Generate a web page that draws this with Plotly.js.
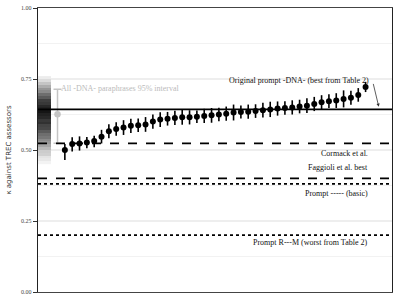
<!DOCTYPE html>
<html><head><meta charset="utf-8">
<script src="https://cdn.plot.ly/plotly-3.0.1.min.js"></script>
<style>html,body{margin:0;padding:0;background:#fff}#chart{width:400px;height:300px}</style>
</head><body><div id="chart"></div>
<script>
// Paraphrase prompts (sorted), kappa and error
const promptIdx = [1,2,3,4,5,6,7,8,9,10,11,12,13,14,15,16,17,18,19,20,21,22,23,24,25,26,27,28,29,30,31,32,33,34,35,36,37,38,39,40,41,42];
const kappa = [0.500,0.521,0.523,0.526,0.532,0.547,0.566,0.574,0.579,0.585,0.587,0.590,0.600,0.607,0.610,0.613,0.615,0.615,0.617,0.620,0.622,0.625,0.628,0.632,0.634,0.635,0.637,0.640,0.643,0.646,0.648,0.650,0.653,0.656,0.662,0.668,0.672,0.674,0.680,0.684,0.694,0.722];
const errUp = [0.021,0.024,0.025,0.020,0.018,0.024,0.025,0.024,0.026,0.025,0.024,0.026,0.025,0.026,0.024,0.025,0.026,0.025,0.022,0.025,0.026,0.024,0.025,0.028,0.023,0.025,0.024,0.026,0.027,0.025,0.024,0.025,0.024,0.026,0.025,0.025,0.024,0.026,0.030,0.025,0.024,0.018];
const errDown = [0.035,0.026,0.025,0.020,0.022,0.024,0.025,0.024,0.026,0.025,0.024,0.026,0.025,0.026,0.024,0.025,0.026,0.025,0.022,0.025,0.026,0.024,0.025,0.028,0.023,0.025,0.024,0.026,0.027,0.025,0.024,0.025,0.024,0.026,0.025,0.025,0.024,0.026,0.030,0.025,0.024,0.018];

// All-DNA paraphrases: mean and 95% interval
const allX = [0];
const allMean = [0.626];
const allUpper = [0.714];
const allLower = [0.524];

// density strip of paraphrase kappas
const densityY = [0.455,0.465,0.475,0.485,0.495,0.505,0.515,0.525,0.535,0.545,0.555,0.565,0.575,0.585,0.595,0.605,0.615,0.625,0.635,0.645,0.655,0.665,0.675,0.685,0.695,0.705,0.715,0.725,0.735,0.745,0.755];
const density = [0.05,0.10,0.12,0.20,0.22,0.30,0.38,0.45,0.50,0.58,0.62,0.70,0.78,0.80,0.88,0.85,0.92,0.95,1.00,0.95,0.92,0.85,0.82,0.70,0.62,0.50,0.45,0.35,0.25,0.15,0.08];
const densityX = [-2.66,-0.95];

// reference lines
const refValues = [0.643, 0.523, 0.400, 0.381, 0.200];
const refLabels = ['Original prompt -DNA- (best from Table 2)','Cormack et al.','Faggioli et al. best','Prompt ----- (basic)','Prompt R---M (worst from Table 2)'];
const refDash = ['solid','dash','dash','dot','dot'];

const font = 'Liberation Serif, DejaVu Serif, serif';

const traces = [
  {type:'heatmap', x:densityX, y:densityY, z:density.map(v=>[v]), zmin:0, zmax:1,
   colorscale:[[0,'#ffffff'],[1,'#151515']], showscale:false, hoverinfo:'skip'},
  {type:'scatter', mode:'markers', x:allX, y:allMean,
   marker:{color:'#c4c4c4', size:6.5},
   error_y:{type:'data', symmetric:false,
     array:allUpper.map((u,i)=>u-allMean[i]), arrayminus:allMean.map((m,i)=>m-allLower[i]),
     color:'#c4c4c4', thickness:1.5, width:4}},
  {type:'scatter', mode:'markers', x:promptIdx, y:kappa,
   marker:{color:'#000', size:6},
   error_y:{type:'data', symmetric:false, array:errUp, arrayminus:errDown, color:'#000', thickness:1.6, width:0}}
];

const shapes = refValues.map((v,i)=>({type:'line', xref:'paper', x0:0, x1:1, yref:'y', y0:v, y1:v,
  line:{color:'#000', width:1.7, dash:refDash[i]}}));

const lab = {family:font, size:8, color:'#111'};
const annotations = [
  {x:42.7, y:0.744, xref:'x', yref:'y', text:refLabels[0], showarrow:false, xanchor:'right', yanchor:'middle', font:lab},
  {x:43.8, y:0.652, ax:43.0, ay:0.738, xref:'x', yref:'y', axref:'x', ayref:'y', text:'', showarrow:true,
    arrowhead:2, arrowsize:0.8, arrowwidth:0.8, arrowcolor:'#333'},
  {x:42.6, y:refValues[1]-0.035, xref:'x', yref:'y', text:refLabels[1], showarrow:false, xanchor:'right', yanchor:'middle', font:lab},
  {x:42.6, y:refValues[2]+0.038, xref:'x', yref:'y', text:refLabels[2], showarrow:false, xanchor:'right', yanchor:'middle', font:lab},
  {x:42.6, y:refValues[3]-0.035, xref:'x', yref:'y', text:refLabels[3], showarrow:false, xanchor:'right', yanchor:'middle', font:lab},
  {x:42.6, y:refValues[4]-0.025, xref:'x', yref:'y', text:refLabels[4], showarrow:false, xanchor:'right', yanchor:'middle', font:lab},
  {x:0.2, y:0.717, xref:'x', yref:'y', text:'All -DNA- paraphrases 95% interval', showarrow:false, xanchor:'left', yanchor:'middle', font:{family:font, size:8, color:'#bbbbbb'}}
];

const layout = {
  width:400, height:300,
  margin:{l:38, r:8, t:8, b:8},
  paper_bgcolor:'#fff', plot_bgcolor:'#fff',
  showlegend:false,
  xaxis:{range:[-2.66,45.6], showticklabels:false, ticks:'', showgrid:false, zeroline:false,
    showline:true, mirror:true, linecolor:'#444', linewidth:1.2},
  yaxis:{range:[0,1], tickvals:[0,0.25,0.5,0.75,1], ticktext:['0.00','0.25','0.50','0.75','1.00'],
    ticks:'outside', ticklen:4, tickwidth:1, tickcolor:'#333',
    tickfont:{family:font, size:6, color:'#444'},
    showgrid:true, gridcolor:'#eeeeee', gridwidth:1.5, zeroline:false,
    minor:{dtick:0.125, showgrid:true, gridcolor:'#f2f2f2', gridwidth:1, ticks:''},
    showline:true, mirror:true, linecolor:'#222', linewidth:1.2,
    title:{text:'κ against TREC assessors', standoff:8, font:{family:'DejaVu Sans, sans-serif', size:7, color:'#333'}}},
  shapes:shapes,
  annotations:annotations
};

Plotly.newPlot('chart', traces, layout, {displayModeBar:false, staticPlot:true});
</script></body></html>
